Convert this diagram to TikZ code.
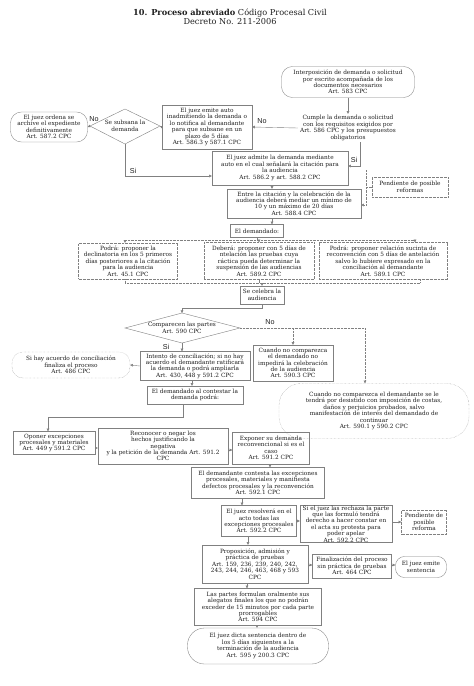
\documentclass[tikz,border=0pt]{standalone}
\usepackage{fontspec}
\setmainfont{DejaVu Serif}
\setsansfont{Liberation Sans}
\usetikzlibrary{arrows.meta,calc}
\newcommand{\fs}{\fontsize{5.8}{6.4}\selectfont}
\definecolor{ink}{gray}{0.12}
\definecolor{edge}{gray}{0.5}
\begin{document}
\begin{tikzpicture}[x=1pt,y=-1pt,
  box/.style={draw=edge, line width=0.35pt, align=center, inner sep=0.3pt, font=\fs, text=ink},
  dbox/.style={box, densely dotted},
  nob/.style={box, draw=none},
  stad/.style={box, rounded corners=#1},
  wh/.style 2 args={minimum width=#1, minimum height=#2},
  arr/.style={draw=edge, line width=0.4pt, -{Triangle[length=2.6pt,width=2.6pt]}},
  ln/.style={draw=edge, line width=0.4pt},
  dl/.style={ln, densely dotted},
  darr/.style={arr, densely dotted},
  lab/.style={font=\sffamily\fontsize{7.2}{8}\selectfont, text=ink, inner sep=0pt}
]
\useasboundingbox (0,0) rectangle (474,686);
\fill[white] (0,0) rectangle (474,686);

\node[align=center, text=ink, font=\fontsize{8.2}{9.4}\selectfont] (title) at (230,17)
  {{\bfseries 10. Proceso abreviado} Código Procesal Civil\\Decreto No. 211-2006};

% top section
\node[stad=11pt, wh={133pt}{31pt}] (start) at (348,82)
  {Interposición de demanda o solicitud\\por escrito acompañada de los\\documentos necesarios\\Art. 583 CPC};
\node[nob, wh={100pt}{28pt}] (cumple) at (348,128)
  {Cumple la demanda o solicitud\\con los requisitos exigidos por\\Art. 586 CPC y los presupuestos\\obligatorios};
\node[box, wh={90pt}{44pt}] (emite) at (207,127)
  {El juez emite auto\\inadmitiendo la demanda o\\lo notifica al demandante\\para que subsane en un\\plazo de 5 días\\Art. 586.3 y 587.1 CPC};
\node[nob] (subsana) at (125,126) {Se subsana la\\demanda};
\coordinate (subN) at (125,109);
\coordinate (subS) at (125,144);
\coordinate (subW) at (90,126);
\coordinate (subE) at (160,126);
\draw[ln] (subW) -- (subN) -- (subE) -- (subS) -- cycle;
\node[stad=11pt, wh={77pt}{30pt}] (archive) at (49,127)
  {El juez ordena se\\archive el expediente\\definitivamente\\Art. 587.2 CPC};
\node[box, wh={136pt}{34pt}] (admite) at (280,168)
  {El juez admite la demanda mediante\\auto en el cual señalará la citación para\\la audiencia\\Art. 586.2 y art. 588.2 CPC};
\node[box, wh={134pt}{29pt}] (entre) at (294,203.5)
  {Entre la citación y la celebración de la\\audiencia deberá mediar un mínimo de\\10 y un máximo de 20 días\\Art. 588.4 CPC};
\node[dbox, wh={76pt}{20pt}] (pend1) at (410,187) {Pendiente de posible\\reformas};

\draw[arr] (start.south) -- (cumple.north);
\draw[arr] (cumple.west) -- (emite.east);
\node[lab] (noA) at (262,121) {No};
\draw[arr] (emite.west) -- (subE);
\draw[arr] (subW) -- (archive.east);
\node[lab] (noB) at (94,119) {No};
\coordinate (y176) at (0,176);
\draw[arr] (subS) |- (admite.west |- y176);
\node[lab] (siA) at (133,171) {Si};
\coordinate (rv1) at (360,142);
\coordinate (rv2) at (360,166);
\draw[arr] (rv1) -- (rv2) -- (admite.east |- rv2);
\node[lab] (siB) at (354,160) {Si};
\coordinate (bk1) at (366,170);
\coordinate (bk2) at (366,205);
\draw[dl] (pend1.west) -- (bk1 |- pend1.west);
\draw[dl] (bk1) -- (bk2);
\draw[darr] (bk2) -- (entre.east |- bk2);

\coordinate (x272) at (272,0);
\draw[arr] (x272 |- admite.south) -- (x272 |- entre.north);

% demandado
\node[box, wh={53pt}{13pt}] (demandado) at (257,231) {El demandado:};
\draw[arr] (x272 |- entre.south) -- (x272 |- demandado.north);
\node[dbox, wh={99pt}{36pt}] (podra1) at (128,261)
  {Podrá: proponer la\\declinatoria en los 5 primeros\\días posteriores a la citación\\para la audiencia\\Art. 45.1 CPC};
\node[dbox, wh={110pt}{37pt}] (debera) at (259,261)
  {Deberá: proponer con 5 días de\\ntelación las pruebas cuya\\ráctica pueda determinar la\\suspensión de las audiencias\\Art. 589.2 CPC};
\node[dbox, wh={128pt}{37pt}] (podra2) at (383,261)
  {Podrá: proponer relación sucinta de\\reconvención con 5 días de antelación\\salvo lo hubiere expresado en la\\conciliación al demandante\\Art. 589.1 CPC};
\coordinate (spL) at (125,240);
\coordinate (spR) at (415,240);
\draw[dl] (demandado.south) -- (demandado.south |- spL);
\draw[dl] (spL) -- (spR);
\draw[darr] (spL) -- (spL |- podra1.north);
\draw[darr] (debera.north |- spL) -- (debera.north);
\draw[darr] (spR) -- (spR |- podra2.north);

\coordinate (jL) at (125,283);
\coordinate (jR) at (420,283);
\node[box, wh={44pt}{18pt}] (celebra) at (262,295) {Se celebra la\\audiencia};
\draw[dl] (jL |- podra1.south) -- (jL) -- (jR) -- (jR |- podra2.south);
\draw[dl] (debera.south) -- (debera.south |- jL);
\draw[arr] (celebra.north |- jL) -- (celebra.north);

% comparecen
\node[nob] (comparecen) at (182,328) {Comparecen las partes\\Art. 590 CPC};
\coordinate (cN) at (182,313);
\coordinate (cS) at (182,343);
\coordinate (cW) at (125,328);
\coordinate (cE) at (240,328);
\draw[ln] (cW) -- (cN) -- (cE) -- (cS) -- cycle;
\coordinate (cb) at (182,308);
\draw[arr] (celebra.south) |- (cb) -- (cN);

\node[box, wh={80pt}{36pt}] (nocompdem) at (293,363)
  {Cuando no comparezca\\el demandado no\\impedirá la celebración\\de la audiencia\\Art. 590.3 CPC};
\node[stad=22pt, dbox, wh={190pt}{55pt}] (nocompdte) at (374,411)
  {Cuando no comparezca el demandante se le\\tendrá por desistido con imposición de costas,\\daños y perjuicios probados, salvo\\manifestación de interés del demandado de\\continuar\\Art. 590.1 y 590.2 CPC};
\coordinate (ne) at (365,328);
\draw[dl] (cE) -- (ne);
\draw[darr] (ne) -- (ne |- nocompdte.north);
\draw[darr] (nocompdem.north |- ne) -- (nocompdem.north);
\node[lab] (noC) at (270,322) {No};

\node[box, wh={110pt}{29pt}] (intento) at (195,366)
  {Intento de conciliación; si no hay\\acuerdo el demandante ratificará\\la demanda o podrá ampliarla\\Art. 430, 448 y 591.2 CPC};
\draw[arr] (cS) -- (cS |- intento.north);
\node[lab] (siC) at (166,347) {Si};
\node[stad=11pt, dbox, wh={118pt}{26pt}] (acuerdo) at (71,365)
  {Si hay acuerdo de conciliación\\finaliza el proceso\\Art. 486 CPC};
\draw[arr] (intento.west) -- (acuerdo.east);

\node[box, wh={96pt}{18pt}] (contestar) at (195,395)
  {El demandado al contestar la\\demanda podrá:};
\coordinate (x192) at (192,0);
\draw[arr] (x192 |- intento.south) -- (x192 |- contestar.north);

\node[box, wh={82pt}{23pt}] (oponer) at (54,443)
  {Oponer excepciones\\procesales y materiales\\Art. 449 y 591.2 CPC};
\node[box, wh={130pt}{36pt}] (reconocer) at (163,446)
  {Reconocer o negar los\\hechos justificando la\\negativa\\y la petición de la demanda Art. 591.2\\CPC};
\node[box, wh={77pt}{32pt}] (exponer) at (271,448)
  {Exponer su demanda\\reconvencional si es el\\caso\\Art. 591.2 CPC};
\coordinate (c1) at (183,417);
\coordinate (c2) at (48,417);
\draw[arr] (c1 |- contestar.south) -- (c1) -- (c2) -- (c2 |- oponer.north);
\coordinate (y448) at (0,448);
\coordinate (y450) at (0,450);
\draw[arr] (oponer.east |- y448) -- (reconocer.west |- y448);
\draw[arr] (reconocer.east |- y450) -- (exponer.west |- y450);

\node[box, wh={133pt}{31pt}] (dcontesta) at (258,483)
  {El demandante contesta las excepciones\\procesales, materiales y manifiesta\\defectos procesales y la reconvención\\Art. 592.1 CPC};
\coordinate (x270) at (270,0);
\draw[arr] (x270 |- exponer.south) -- (x270 |- dcontesta.north);

\node[box, wh={75pt}{31pt}] (resolvera) at (259,521)
  {El juez resolverá en el\\acto todas las\\excepciones procesales\\Art. 592.2 CPC};
\coordinate (x242) at (242,0);
\draw[arr] (x242 |- dcontesta.south) -- (x242 |- resolvera.north);
\node[box, wh={92pt}{37pt}] (rechaza) at (346,524)
  {Si el juez las rechaza la parte\\que las formuló tendrá\\derecho a hacer constar en\\el acta su protesta para\\poder apelar\\Art. 592.2 CPC};
\node[dbox, wh={45pt}{24pt}] (pend2) at (424,522) {Pendiente de\\posible\\reforma};
\draw[arr] (resolvera.east) -- (rechaza.west |- resolvera.east);
\draw[arr] (rechaza.east |- pend2.west) -- (pend2.west);

\node[box, wh={106pt}{38pt}] (proposicion) at (255,564)
  {Proposición, admisión y\\práctica de pruebas\\Art. 159, 236, 239, 240, 242,\\243, 244, 246, 463, 468 y 593\\CPC};
\coordinate (x248) at (248,0);
\draw[arr] (x248 |- resolvera.south) -- (x248 |- proposicion.north);
\node[box, wh={79pt}{24pt}] (finaliza) at (352,566)
  {Finalización del proceso\\sin práctica de pruebas\\Art. 464 CPC};
\node[stad=9pt, wh={51pt}{21pt}] (sentencia) at (421,567) {El juez emite\\sentencia};
\coordinate (y565) at (0,565);
\draw[arr] (proposicion.east |- y565) -- (finaliza.west |- y565);
\draw[arr] (finaliza.east |- y565) -- (sentencia.west |- y565);

\node[box, wh={127pt}{37pt}] (partes) at (258,607)
  {Las partes formulan oralmente sus\\alegatos finales los que no podrán\\exceder de 15 minutos por cada parte\\prorrogables\\Art. 594 CPC};
\coordinate (x247) at (247,0);
\draw[arr] (x247 |- proposicion.south) -- (x247 |- partes.north);
\node[stad=17pt, wh={141pt}{36pt}] (dicta) at (258,646)
  {El juez dicta sentencia dentro de\\los 5 días siguientes a la\\terminación de la audiencia\\Art. 595 y 200.3 CPC};
\coordinate (x257) at (257,0);
\draw[arr] (x257 |- partes.south) -- (x257 |- dicta.north);
\end{tikzpicture}
\end{document}
